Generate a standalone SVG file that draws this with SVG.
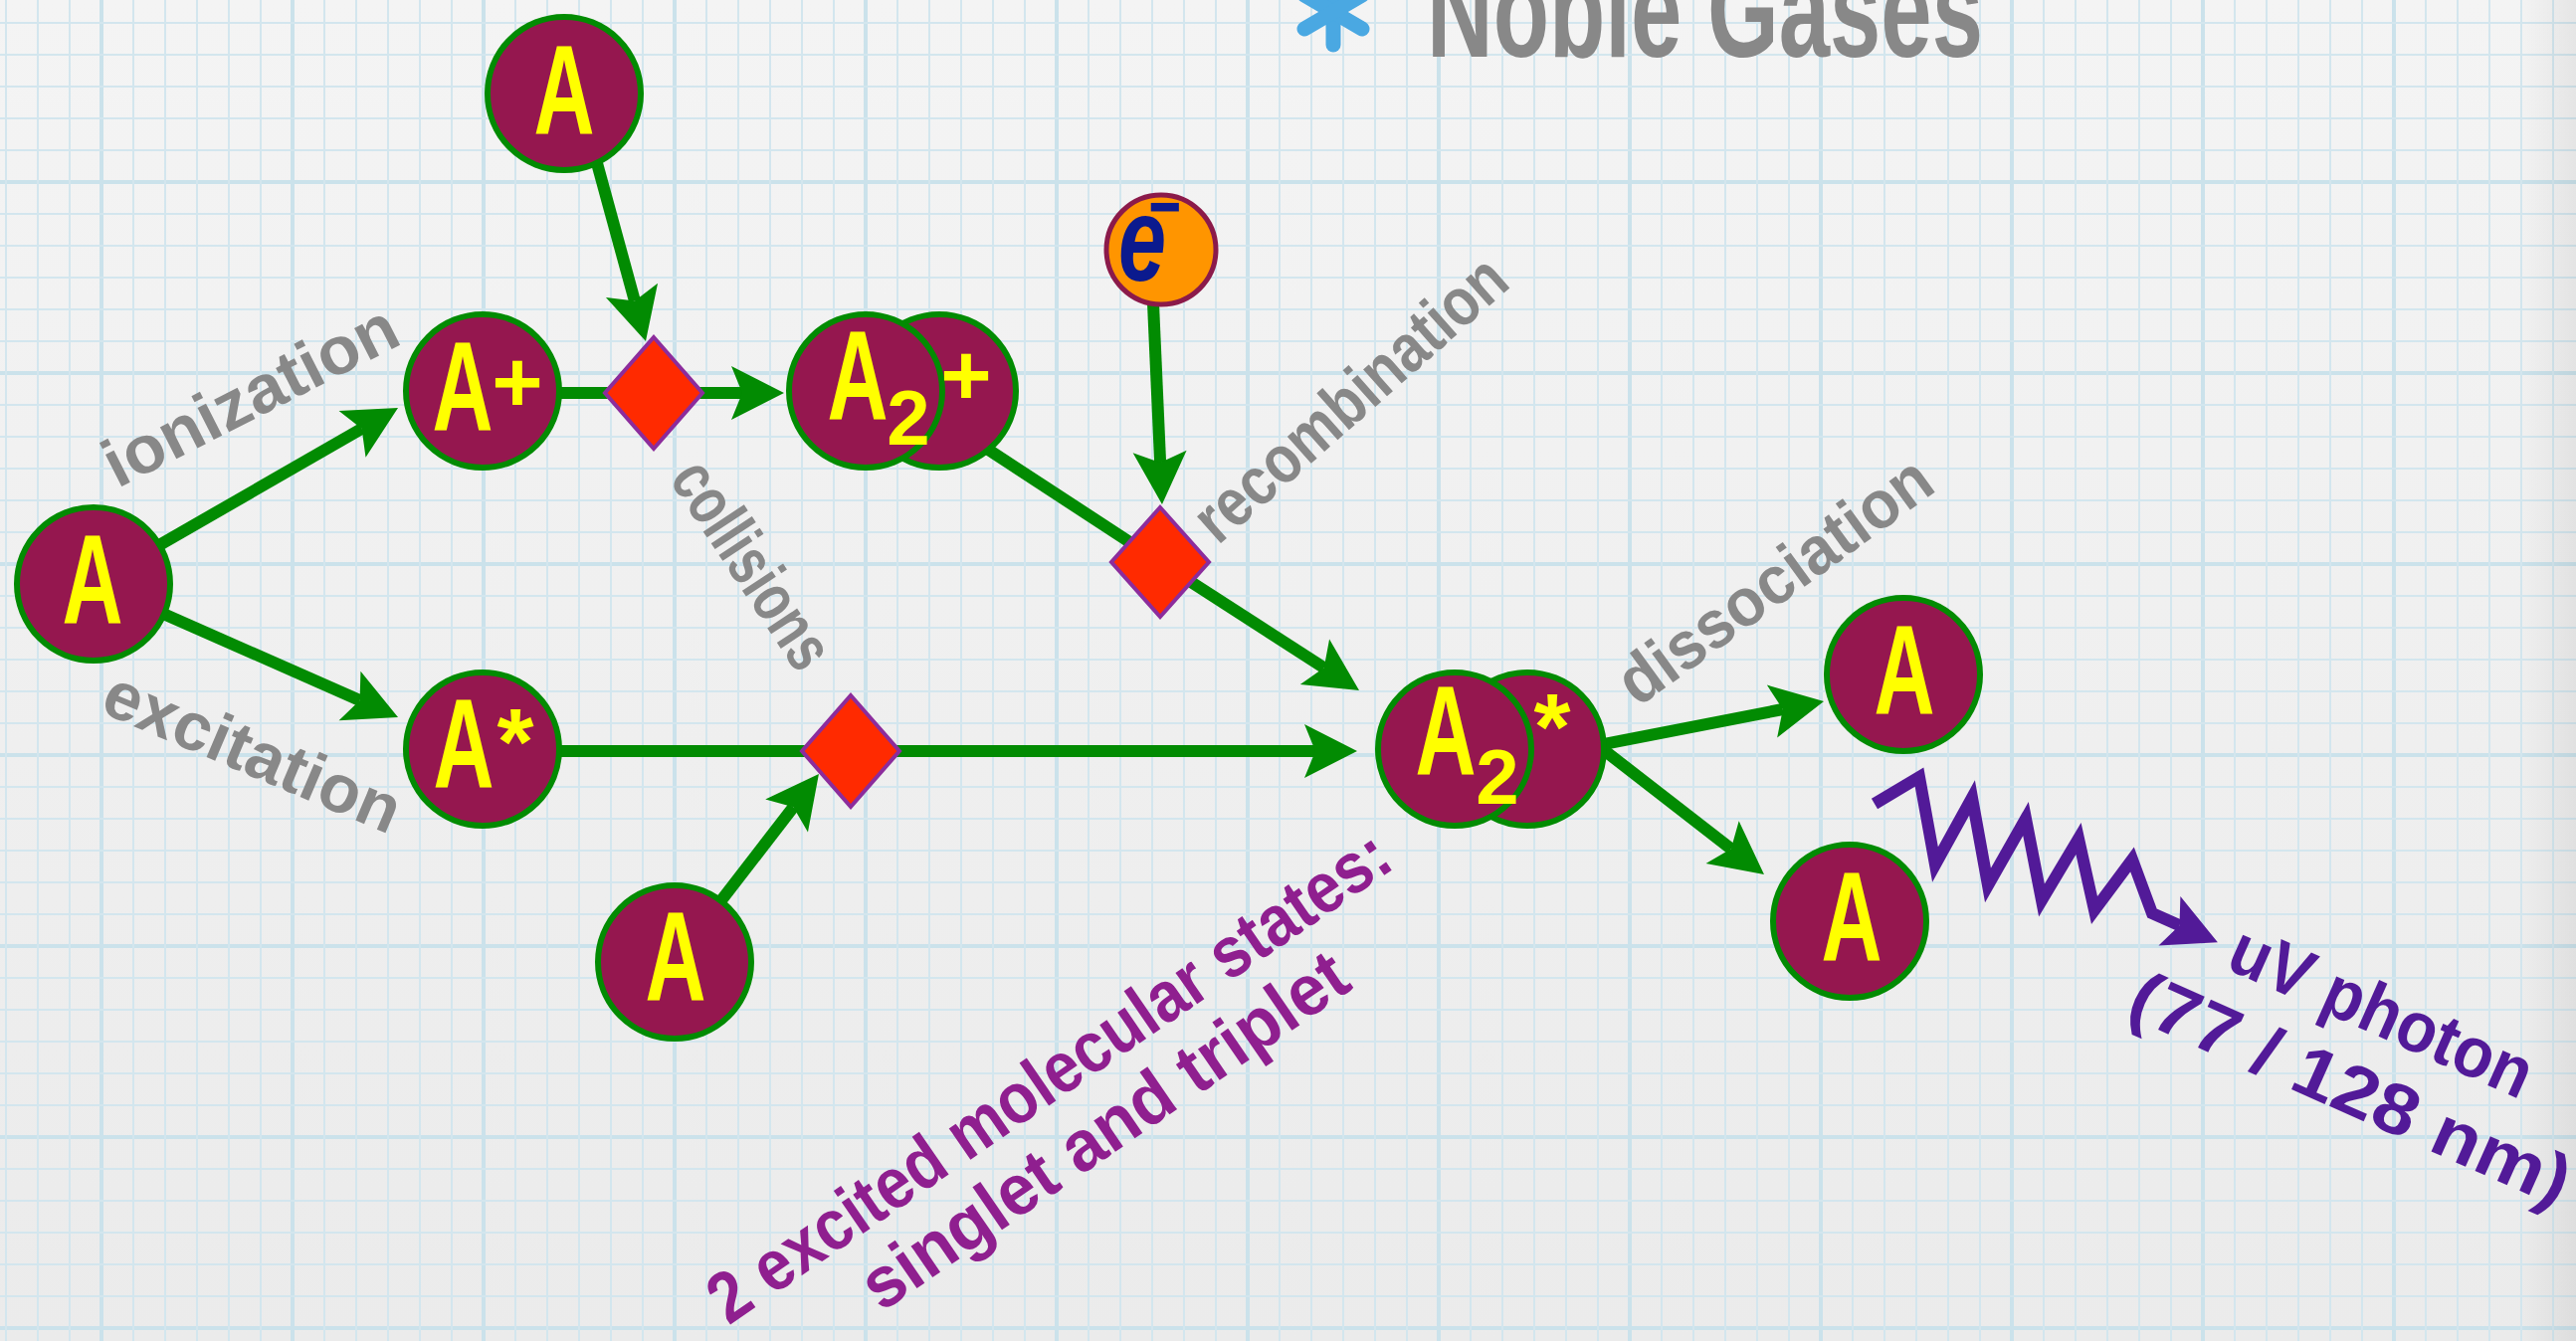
<svg xmlns="http://www.w3.org/2000/svg" width="2589" height="1348" viewBox="0 0 2589 1348">
  <defs>
    <linearGradient id="paper" x1="0" y1="0" x2="0" y2="1">
      <stop offset="0" stop-color="#f4f4f4"/>
      <stop offset="1" stop-color="#ebebeb"/>
    </linearGradient>
    <linearGradient id="edge" x1="0" y1="0" x2="1" y2="0">
      <stop offset="0" stop-color="#000" stop-opacity="0"/>
      <stop offset="1" stop-color="#000" stop-opacity="0.06"/>
    </linearGradient>
    <!-- graph paper: minor rule every 32px, major rule every 192px -->
    <pattern id="grid" patternUnits="userSpaceOnUse" x="100" y="181" width="192" height="192">
      <g fill="#d3e6ee">
        <rect x="0" y="0" width="4" height="192" fill="#cbe2eb"/>
        <rect x="0" y="0" width="192" height="4" fill="#cbe2eb"/>
        <rect x="33" y="0" width="2" height="192"/>
        <rect x="65" y="0" width="2" height="192"/>
        <rect x="97" y="0" width="2" height="192"/>
        <rect x="129" y="0" width="2" height="192"/>
        <rect x="161" y="0" width="2" height="192"/>
        <rect x="0" y="33" width="192" height="2"/>
        <rect x="0" y="65" width="192" height="2"/>
        <rect x="0" y="97" width="192" height="2"/>
        <rect x="0" y="129" width="192" height="2"/>
        <rect x="0" y="161" width="192" height="2"/>
      </g>
    </pattern>
    <marker id="ah" markerUnits="userSpaceOnUse" markerWidth="60" markerHeight="60" refX="11" refY="27" orient="auto" overflow="visible">
      <path d="M0,0 L53,27 L0,54 L11,27 Z" fill="#028B02"/>
    </marker>
    <marker id="ahp" markerUnits="userSpaceOnUse" markerWidth="60" markerHeight="60" refX="11" refY="27" orient="auto" overflow="visible">
      <path d="M0,0 L53,27 L0,54 L11,27 Z" fill="#521A98"/>
    </marker>
    <style>
      .atom { fill: #95174F; stroke: #028B02; stroke-width: 6; }
      .dia { fill: #FF2A00; stroke: #8C2C9C; stroke-width: 4; }
      .arrow { stroke: #028B02; stroke-width: 12; fill: none; marker-end: url(#ah); }
      .plain { stroke: #028B02; stroke-width: 12; fill: none; }
      .photon { stroke: #521A98; stroke-width: 12; fill: none; stroke-linejoin: miter; stroke-miterlimit: 8; marker-end: url(#ahp); }
      text { font-family: "Liberation Sans", Arial, sans-serif; font-weight: bold; }
      .ya { fill: #FFFF00; font-size: 128px; text-anchor: middle; }
      .ysup { fill: #FFFF00; font-size: 88px; text-anchor: middle; }
      .ysub { fill: #FFFF00; font-size: 78px; text-anchor: middle; }
      .ystar { fill: #FFFF00; font-size: 95px; text-anchor: middle; }
      .gray { fill: #888888; font-size: 68px; text-anchor: middle; }
      .purp { fill: #8F1F8F; font-size: 72px; text-anchor: middle; }
      .uv { fill: #521A98; font-size: 72px; text-anchor: middle; }
    </style>
  </defs>

  <!-- paper background -->
  <rect width="2589" height="1348" fill="url(#paper)"/>
  <rect width="2589" height="1348" fill="url(#grid)"/>
  <rect x="2530" width="59" height="1348" fill="url(#edge)"/>

  <!-- title -->
  <g id="title">
    <g stroke="#4AA8E2" stroke-width="15" stroke-linecap="round">
      <line x1="1340" y1="-21" x2="1340" y2="45"/>
      <line x1="1311" y1="-5" x2="1369" y2="29"/>
      <line x1="1311" y1="29" x2="1369" y2="-5"/>
    </g>
    <text transform="translate(1434,57) scale(1,1.35)" font-size="100" fill="#888888" textLength="559" lengthAdjust="spacingAndGlyphs">Noble Gases</text>
  </g>

  <!-- connectors -->
  <g id="connectors">
    <line class="arrow" x1="94" y1="586" x2="363.6" y2="430.9"/>
    <line class="arrow" x1="94" y1="586" x2="361.6" y2="704"/>
    <line class="arrow" x1="589.6" y1="126" x2="637.9" y2="302.5"/>
    <line class="plain" x1="485" y1="395" x2="657" y2="395"/>
    <line class="arrow" x1="657" y1="395" x2="746" y2="395"/>
    <line class="plain" x1="972" y1="438" x2="1166" y2="565"/>
    <line class="arrow" x1="1157" y1="260" x2="1166.1" y2="465"/>
    <line class="arrow" x1="1166" y1="565" x2="1330.7" y2="671.2"/>
    <line class="plain" x1="485" y1="755" x2="855" y2="755"/>
    <line class="arrow" x1="855" y1="755" x2="1322" y2="755"/>
    <line class="arrow" x1="700.6" y1="936.7" x2="797.3" y2="811.3"/>
    <line class="arrow" x1="1572.7" y1="755.6" x2="1791.8" y2="713"/>
    <line class="arrow" x1="1580.4" y1="729.5" x2="1739.8" y2="853.3"/>
    <polyline class="photon" points="1884,808 1929,781 1945,869 1982,802 1998,890 2036,823 2052,905 2089,843 2105,915 2143,864 2163,918 2190.5,930.2"/>
  </g>

  <!-- collision / recombination vertices -->
  <g id="collision-ion">
    <polygon class="dia" points="657,339 706,395 657,451 608,395"/>
  </g>
  <g id="recombination-point">
    <polygon class="dia" points="1166,510 1215,565 1166,620 1117,565"/>
  </g>
  <g id="collision-excited">
    <polygon class="dia" points="855,699 904,755 855,811 806,755"/>
  </g>

  <!-- atoms and molecules -->
  <g id="atom-start">
    <circle class="atom" cx="94" cy="587" r="77"/>
    <text class="ya" transform="translate(93,627) scale(0.66,1)">A</text>
  </g>
  <g id="atom-top">
    <circle class="atom" cx="567" cy="94" r="77"/>
    <text class="ya" transform="translate(567,135) scale(0.66,1)">A</text>
  </g>
  <g id="ion">
    <circle class="atom" cx="485" cy="393" r="77"/>
    <text class="ya" transform="translate(465,433) scale(0.66,1)">A</text>
    <text class="ysup" x="520" y="414">+</text>
  </g>
  <g id="molecular-ion">
    <circle class="atom" cx="944" cy="393" r="77"/>
    <circle class="atom" cx="870" cy="393" r="77"/>
    <text class="ya" transform="translate(862,422) scale(0.66,1)">A</text>
    <text class="ysub" x="913" y="447">2</text>
    <text class="ysup" x="971" y="407">+</text>
  </g>
  <g id="electron">
    <circle cx="1167" cy="251" r="55" fill="#FF9500" stroke="#8B1A4A" stroke-width="5"/>
    <text transform="translate(1124,282) scale(0.72,1)" font-size="120" font-style="italic" fill="#0B1A8E">e<tspan dx="-26" dy="-48" font-size="78">−</tspan></text>
  </g>
  <g id="excited-atom">
    <circle class="atom" cx="485" cy="753" r="77"/>
    <text class="ya" transform="translate(466,792) scale(0.66,1)">A</text>
    <text class="ystar" x="518" y="778">*</text>
  </g>
  <g id="atom-bottom">
    <circle class="atom" cx="678" cy="967" r="77"/>
    <text class="ya" transform="translate(679,1006) scale(0.66,1)">A</text>
  </g>
  <g id="excimer">
    <circle class="atom" cx="1535" cy="753" r="77"/>
    <circle class="atom" cx="1462" cy="753" r="77"/>
    <text class="ya" transform="translate(1453,779) scale(0.66,1)">A</text>
    <text class="ysub" x="1505" y="808">2</text>
    <text class="ystar" x="1560" y="763">*</text>
  </g>
  <g id="atom-out-1">
    <circle class="atom" cx="1913" cy="678" r="77"/>
    <text class="ya" transform="translate(1914,718) scale(0.66,1)">A</text>
  </g>
  <g id="atom-out-2">
    <circle class="atom" cx="1859" cy="926" r="77"/>
    <text class="ya" transform="translate(1861,966) scale(0.66,1)">A</text>
  </g>

  <!-- process labels -->
  <g id="labels">
    <text class="gray" transform="translate(262,418) rotate(-27)" textLength="323" lengthAdjust="spacingAndGlyphs">ionization</text>
    <text class="gray" transform="translate(245,777) rotate(23)" textLength="318" lengthAdjust="spacingAndGlyphs">excitation</text>
    <text class="gray" transform="translate(737,580) rotate(56.5)" textLength="236" lengthAdjust="spacingAndGlyphs">collisions</text>
    <text class="gray" transform="translate(1372,418) rotate(-41.5)" textLength="395" lengthAdjust="spacingAndGlyphs">recombination</text>
    <text class="gray" transform="translate(1797,602) rotate(-36)" textLength="373" lengthAdjust="spacingAndGlyphs">dissociation</text>
    <g transform="translate(1068,1102) rotate(-34.5)">
      <text class="purp" x="0" y="0" textLength="815" lengthAdjust="spacingAndGlyphs">2 excited molecular states:</text>
      <text class="purp" x="15" y="76" textLength="577" lengthAdjust="spacingAndGlyphs">singlet and triplet</text>
    </g>
    <g transform="translate(2384,1039) rotate(24)">
      <text class="uv" x="0" y="0" textLength="326" lengthAdjust="spacingAndGlyphs">uV photon</text>
      <text class="uv" x="3" y="84" textLength="477" lengthAdjust="spacingAndGlyphs">(77 / 128 nm)</text>
    </g>
  </g>
</svg>
